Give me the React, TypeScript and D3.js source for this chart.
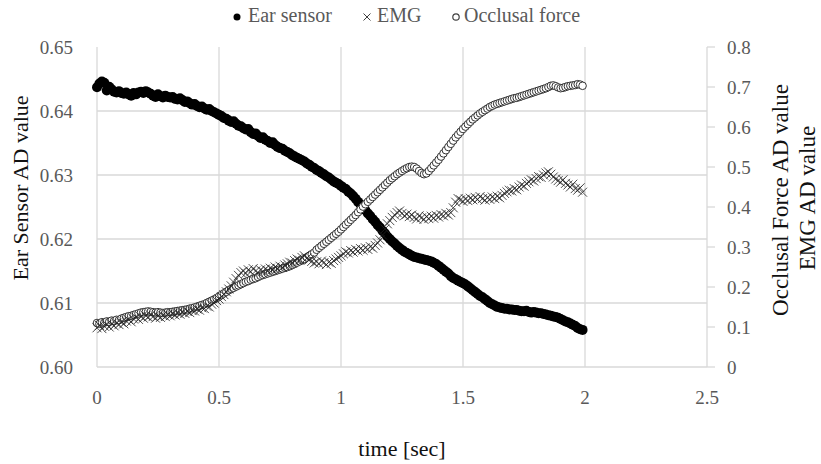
import * as d3 from "d3";
import {useEffect, useRef} from "react";

// samples every 10 ms, 0 .. 1.99 s
const sampleInterval = 0.01;

// left axis
const earSensor = [
    0.6437, 0.6443, 0.6446, 0.6444, 0.6432, 0.6438, 0.6434, 0.6430, 0.6429, 0.6431,
    0.6428, 0.6427, 0.6429, 0.6426, 0.6424, 0.6428, 0.6426, 0.6429, 0.6430, 0.6428,
    0.6431, 0.6429, 0.6427, 0.6424, 0.6422, 0.6426, 0.6423, 0.6421, 0.6424, 0.6422,
    0.6421, 0.6422, 0.6419, 0.6418, 0.6420, 0.6417, 0.6414, 0.6415, 0.6412, 0.6410,
    0.6411, 0.6408, 0.6406, 0.6407, 0.6404, 0.6402, 0.6403, 0.6400, 0.6398, 0.6396,
    0.6394, 0.6392, 0.6389, 0.6388, 0.6385, 0.6383, 0.6384, 0.6380, 0.6377, 0.6376,
    0.6373, 0.6371, 0.6372, 0.6367, 0.6364, 0.6365, 0.6361, 0.6358, 0.6359, 0.6355,
    0.6353, 0.6350, 0.6351, 0.6347, 0.6344, 0.6342, 0.6341, 0.6338, 0.6336, 0.6334,
    0.6331, 0.6329, 0.6327, 0.6325, 0.6323, 0.6321, 0.6318, 0.6316, 0.6313, 0.6311,
    0.6308, 0.6306, 0.6303, 0.6301, 0.6298, 0.6296, 0.6293, 0.6290, 0.6288, 0.6286,
    0.6283, 0.6280, 0.6278, 0.6274, 0.6271, 0.6267, 0.6263, 0.6258, 0.6254, 0.6249,
    0.6245, 0.6240, 0.6236, 0.6231, 0.6227, 0.6222, 0.6218, 0.6213, 0.6209, 0.6204,
    0.6200, 0.6196, 0.6193, 0.6189, 0.6186, 0.6183, 0.6180, 0.6178, 0.6176, 0.6174,
    0.6172, 0.6171, 0.6170, 0.6169, 0.6168, 0.6167, 0.6166, 0.6165, 0.6163, 0.6161,
    0.6158, 0.6155, 0.6152, 0.6149, 0.6146, 0.6142, 0.6139, 0.6137, 0.6135, 0.6133,
    0.6131, 0.6129, 0.6126, 0.6123, 0.6120, 0.6117, 0.6114, 0.6111, 0.6109, 0.6106,
    0.6103, 0.6100, 0.6098, 0.6096, 0.6094, 0.6093, 0.6092, 0.6091, 0.6091, 0.6090,
    0.6090, 0.6089, 0.6089, 0.6088, 0.6087, 0.6087, 0.6088, 0.6086, 0.6085, 0.6086,
    0.6085, 0.6084, 0.6084, 0.6083, 0.6082, 0.6081, 0.6080, 0.6079, 0.6078, 0.6077,
    0.6075, 0.6073, 0.6071, 0.6070, 0.6068, 0.6066, 0.6064, 0.6061, 0.6059, 0.6058,
];

// right axis
const emg = [
    0.098, 0.104, 0.096, 0.102, 0.106, 0.100, 0.108, 0.103, 0.110, 0.106,
    0.112, 0.108, 0.115, 0.118, 0.113, 0.120, 0.124, 0.119, 0.126, 0.122,
    0.128, 0.125, 0.130, 0.126, 0.122, 0.127, 0.124, 0.129, 0.126, 0.131,
    0.128, 0.133, 0.130, 0.135, 0.132, 0.137, 0.134, 0.139, 0.136, 0.141,
    0.140, 0.145, 0.142, 0.148, 0.146, 0.152, 0.150, 0.157, 0.160, 0.166,
    0.170, 0.176, 0.181, 0.188, 0.195, 0.203, 0.212, 0.221, 0.229, 0.236,
    0.240, 0.234, 0.243, 0.238, 0.246, 0.240, 0.236, 0.243, 0.239, 0.245,
    0.241, 0.247, 0.244, 0.250, 0.246, 0.252, 0.249, 0.255, 0.258, 0.262,
    0.260, 0.266, 0.270, 0.267, 0.274, 0.278, 0.272, 0.268, 0.264, 0.260,
    0.263, 0.258, 0.265, 0.261, 0.256, 0.262, 0.259, 0.266, 0.270, 0.274,
    0.278, 0.283, 0.288, 0.285, 0.291, 0.287, 0.294, 0.290, 0.296, 0.292,
    0.298, 0.294, 0.301, 0.297, 0.304, 0.310, 0.318, 0.330, 0.345, 0.358,
    0.366, 0.374, 0.380, 0.386, 0.390, 0.384, 0.378, 0.382, 0.376, 0.380,
    0.374, 0.370, 0.378, 0.373, 0.369, 0.376, 0.371, 0.377, 0.372, 0.379,
    0.375, 0.381, 0.378, 0.384, 0.380, 0.386, 0.398, 0.412, 0.421, 0.418,
    0.414, 0.420, 0.416, 0.422, 0.418, 0.424, 0.419, 0.426, 0.421, 0.417,
    0.423, 0.419, 0.425, 0.421, 0.427, 0.423, 0.429, 0.434, 0.438, 0.442,
    0.440, 0.446, 0.443, 0.450, 0.455, 0.452, 0.459, 0.463, 0.468, 0.465,
    0.471, 0.476, 0.474, 0.480, 0.485, 0.488, 0.482, 0.475, 0.470, 0.466,
    0.462, 0.468, 0.459, 0.455, 0.450, 0.457, 0.446, 0.442, 0.448, 0.437,
];

const occlusalForce = [
    0.110, 0.108, 0.112, 0.111, 0.114, 0.113, 0.116, 0.115, 0.118, 0.117,
    0.121, 0.123, 0.125, 0.127, 0.128, 0.130, 0.132, 0.134, 0.136, 0.137,
    0.138, 0.139, 0.138, 0.137, 0.136, 0.137, 0.136, 0.135, 0.136, 0.137,
    0.137, 0.138, 0.139, 0.140, 0.141, 0.142, 0.143, 0.144, 0.146, 0.147,
    0.149, 0.151, 0.153, 0.155, 0.157, 0.160, 0.163, 0.166, 0.169, 0.172,
    0.176, 0.180, 0.184, 0.188, 0.192, 0.195, 0.198, 0.201, 0.204, 0.207,
    0.210, 0.213, 0.215, 0.218, 0.220, 0.222, 0.225, 0.228, 0.230, 0.232,
    0.234, 0.236, 0.238, 0.240, 0.242, 0.244, 0.246, 0.248, 0.250, 0.252,
    0.255, 0.258, 0.261, 0.264, 0.267, 0.270, 0.274, 0.278, 0.282, 0.286,
    0.293, 0.298, 0.303, 0.308, 0.313, 0.318, 0.323, 0.328, 0.333, 0.338,
    0.344, 0.350, 0.356, 0.362, 0.368, 0.374, 0.380, 0.387, 0.394, 0.401,
    0.407, 0.413, 0.419, 0.425, 0.431, 0.437, 0.443, 0.449, 0.455, 0.461,
    0.467, 0.472, 0.477, 0.482, 0.486, 0.490, 0.494, 0.497, 0.500, 0.501,
    0.500, 0.496, 0.490, 0.485, 0.482, 0.484, 0.490, 0.497, 0.504, 0.511,
    0.518, 0.526, 0.534, 0.542, 0.550, 0.558, 0.566, 0.574, 0.581, 0.588,
    0.595, 0.601, 0.607, 0.613, 0.619, 0.624, 0.629, 0.634, 0.638, 0.642,
    0.646, 0.650, 0.653, 0.656, 0.658, 0.660, 0.662, 0.664, 0.666, 0.668,
    0.670, 0.672, 0.673, 0.675, 0.677, 0.679, 0.681, 0.683, 0.685, 0.687,
    0.689, 0.691, 0.693, 0.695, 0.697, 0.700, 0.703, 0.704, 0.702, 0.699,
    0.697, 0.698, 0.700, 0.702, 0.703, 0.704, 0.705, 0.707, 0.706, 0.703,
];

const xTicks = [0, 0.5, 1, 1.5, 2, 2.5];
const leftTicks = [0.60, 0.61, 0.62, 0.63, 0.64, 0.65];
const rightTicks = [0, 0.1, 0.2, 0.3, 0.4, 0.5, 0.6, 0.7, 0.8];

const FONT = "'Liberation Serif', 'Times New Roman', serif";
const GRID = "#d9d9d9";
const TICK_TEXT = "#595959";

function App() {
    const svgRef = useRef(null);

    useEffect(() => {
        const width = 821, height = 464;
        const margin = {top: 47, right: 114, bottom: 97, left: 97};

        const svg = d3.select(svgRef.current);
        svg.selectAll("*").remove();

        const x = d3.scaleLinear()
            .domain([0, 2.5])
            .range([margin.left, width - margin.right]);
        const yLeft = d3.scaleLinear()
            .domain([0.60, 0.65])
            .range([height - margin.bottom, margin.top]);
        const yRight = d3.scaleLinear()
            .domain([0, 0.8])
            .range([height - margin.bottom, margin.top]);

        const x0 = margin.left, x1 = width - margin.right;
        const y0 = height - margin.bottom, y1 = margin.top;

        // grid
        svg.append("g")
            .selectAll("line")
            .data(leftTicks.filter(d => d > 0.6 && d < 0.65))
            .enter()
            .append("line")
            .attr("x1", x0).attr("x2", x1)
            .attr("y1", d => yLeft(d)).attr("y2", d => yLeft(d))
            .attr("stroke", GRID).attr("stroke-width", 1.3);

        svg.append("g")
            .selectAll("line")
            .data(xTicks.slice(0, -1))
            .enter()
            .append("line")
            .attr("x1", d => x(d)).attr("x2", d => x(d))
            .attr("y1", y1).attr("y2", y0)
            .attr("stroke", GRID).attr("stroke-width", 1.3);

        // bottom axis line
        svg.append("line")
            .attr("x1", x0).attr("x2", x1)
            .attr("y1", y0).attr("y2", y0)
            .attr("stroke", GRID).attr("stroke-width", 1.3);

        // right axis + ticks
        svg.append("line")
            .attr("x1", x1).attr("x2", x1)
            .attr("y1", y1).attr("y2", y0)
            .attr("stroke", GRID).attr("stroke-width", 1.3);
        svg.append("g")
            .selectAll("line")
            .data(rightTicks)
            .enter()
            .append("line")
            .attr("x1", x1).attr("x2", x1 + 8)
            .attr("y1", d => yRight(d)).attr("y2", d => yRight(d))
            .attr("stroke", GRID).attr("stroke-width", 1.3);

        // tick labels
        svg.append("g")
            .selectAll("text")
            .data(leftTicks)
            .enter()
            .append("text")
            .attr("x", 73)
            .attr("y", d => yLeft(d))
            .attr("dy", "0.35em")
            .attr("text-anchor", "end")
            .attr("font-family", FONT).attr("font-size", 19)
            .attr("fill", TICK_TEXT)
            .text(d => d3.format(".2f")(d));

        svg.append("g")
            .selectAll("text")
            .data(rightTicks)
            .enter()
            .append("text")
            .attr("x", x1 + 20)
            .attr("y", d => yRight(d))
            .attr("dy", "0.35em")
            .attr("font-family", FONT).attr("font-size", 19)
            .attr("fill", TICK_TEXT)
            .text(d => d === 0 ? "0" : d3.format(".1f")(d));

        svg.append("g")
            .selectAll("text")
            .data(xTicks)
            .enter()
            .append("text")
            .attr("x", d => x(d))
            .attr("y", 397)
            .attr("dy", "0.35em")
            .attr("text-anchor", "middle")
            .attr("font-family", FONT).attr("font-size", 19)
            .attr("fill", TICK_TEXT)
            .text(d => String(d));

        // axis titles
        svg.append("text")
            .attr("transform", "translate(20,188) rotate(-90)")
            .attr("dy", "0.35em")
            .attr("text-anchor", "middle")
            .attr("font-family", FONT).attr("font-size", 22)
            .attr("fill", "#111")
            .text("Ear Sensor AD value");
        svg.append("text")
            .attr("transform", "translate(780,200) rotate(-90)")
            .attr("dy", "0.35em")
            .attr("text-anchor", "middle")
            .attr("font-family", FONT).attr("font-size", 23)
            .attr("fill", "#111")
            .text("Occlusal Force AD value");
        svg.append("text")
            .attr("transform", "translate(807,198) rotate(-90)")
            .attr("dy", "0.35em")
            .attr("text-anchor", "middle")
            .attr("font-family", FONT).attr("font-size", 23)
            .attr("fill", "#111")
            .text("EMG AD value");
        svg.append("text")
            .attr("x", (x0 + x1) / 2)
            .attr("y", 448)
            .attr("dy", "0.35em")
            .attr("text-anchor", "middle")
            .attr("font-family", FONT).attr("font-size", 22)
            .attr("fill", "#111")
            .text("time [sec]");

        const t = i => i * sampleInterval;
        const cross = "M-4.5,-4.5L4.5,4.5M-4.5,4.5L4.5,-4.5";

        // Ear sensor
        svg.append("g")
            .selectAll("circle")
            .data(earSensor)
            .enter()
            .append("circle")
            .attr("cx", (d, i) => x(t(i)))
            .attr("cy", d => yLeft(d))
            .attr("r", 5)
            .attr("fill", "#000");

        // Occlusal force
        svg.append("g")
            .selectAll("circle")
            .data(occlusalForce)
            .enter()
            .append("circle")
            .attr("cx", (d, i) => x(t(i)))
            .attr("cy", d => yRight(d))
            .attr("r", 3.8)
            .attr("fill", "#fff")
            .attr("stroke", "#333")
            .attr("stroke-width", 1);

        // EMG
        svg.append("g")
            .selectAll("path")
            .data(emg)
            .enter()
            .append("path")
            .attr("transform", (d, i) => `translate(${x(t(i))},${yRight(d)})`)
            .attr("d", cross)
            .attr("fill", "none")
            .attr("stroke", "#222")
            .attr("stroke-opacity", 0.8)
            .attr("stroke-width", 1);

        // legend
        const legend = svg.append("g")
            .attr("font-family", FONT).attr("font-size", 20)
            .attr("fill", TICK_TEXT);
        legend.append("circle").attr("cx", 237).attr("cy", 17).attr("r", 3.5).attr("fill", "#000");
        legend.append("text").attr("x", 248).attr("y", 22).text("Ear sensor");
        legend.append("path").attr("transform", "translate(367,17)").attr("d", "M-3.5,-3.5L3.5,3.5M-3.5,3.5L3.5,-3.5")
            .attr("stroke", "#404040").attr("stroke-width", 1);
        legend.append("text").attr("x", 377).attr("y", 22).text("EMG");
        legend.append("circle").attr("cx", 456).attr("cy", 17).attr("r", 3.2)
            .attr("fill", "#fff").attr("stroke", "#404040").attr("stroke-width", 1.2);
        legend.append("text").attr("x", 464).attr("y", 22).text("Occlusal force");
    }, []);

    return (
        <svg
            ref={svgRef}
            width={821}
            height={464}
            style={{position: "absolute", left: 0, top: 0, background: "#fff"}}
        >
        </svg>
    );
}

export default App;
